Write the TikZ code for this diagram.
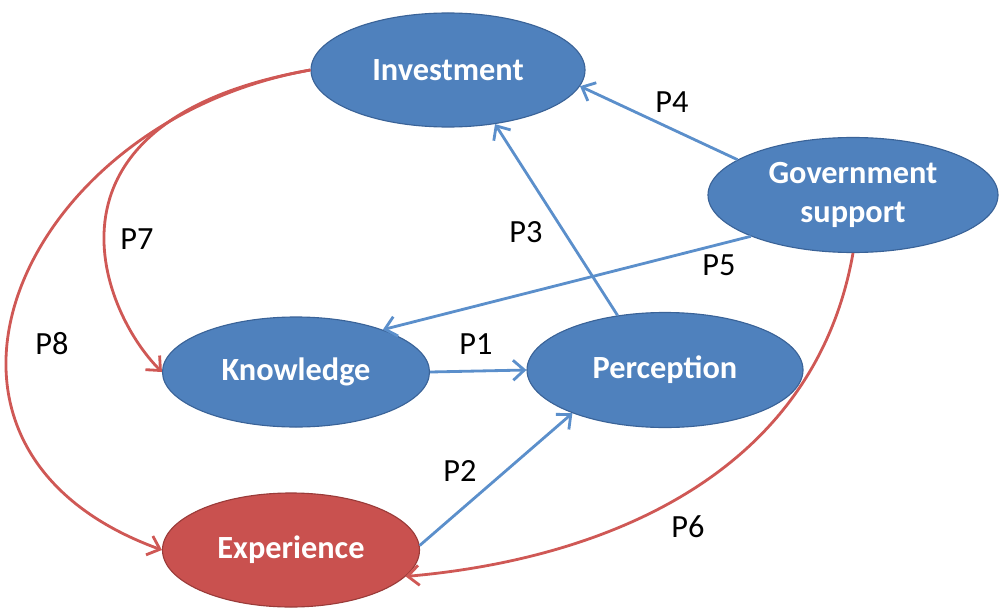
\documentclass[tikz,border=0pt]{standalone}
\usepackage{fontspec}
\setmainfont{Carlito}
\usetikzlibrary{shapes.geometric,arrows.meta}

\definecolor{nodeblue}{HTML}{4F81BD}
\definecolor{edgeblue}{HTML}{3A6398}
\definecolor{lineblue}{HTML}{5B8FCB}
\definecolor{nodered}{HTML}{C9514F}
\definecolor{edgered}{HTML}{9A3B39}
\definecolor{linered}{HTML}{CF5855}

\tikzset{
  factor/.style={ellipse, draw=edgeblue, fill=nodeblue, line width=0.8pt, inner sep=0pt,
    text=white, font=\fontsize{23}{28}\selectfont\bfseries, align=center},
  redfactor/.style={factor, draw=edgered, fill=nodered},
  plabel/.style={font=\fontsize{23}{28}\selectfont},
  blink/.style={->, draw=lineblue, line width=2pt},
  rlink/.style={->, draw=linered, line width=2pt}
}

\begin{document}
\begin{tikzpicture}[>={Straight Barb[length=2.8mm,width=5mm]}]
    \useasboundingbox (0,0) rectangle (24.975,-15.275);

    \node[factor, minimum width=6.85cm, minimum height=2.85cm] (inv) at (11.2,-1.75) {Investment};
    \node[factor, minimum width=7.25cm, minimum height=2.875cm] (gov) at (21.325,-4.875) {Government\\support};
    \node[factor, minimum width=6.675cm, minimum height=2.75cm] (know) at (7.4,-9.3) {Knowledge};
    \node[factor, minimum width=6.9cm, minimum height=2.875cm] (perc) at (16.625,-9.25) {Perception};
    \node[redfactor, minimum width=6.425cm, minimum height=2.85cm] (exp) at (7.275,-13.75) {Experience};

    \draw[blink] (know.east) -- (perc.west);
    \draw[blink] (exp.2) -- (perc.205);
    \draw[blink] (perc.131) -- (inv.311);
    \draw[blink] (gov.163) -- (inv.353);
    \draw[blink] (gov.202) -- (know.26);
    \draw[rlink] (gov.south) to[out=-100, in=5, out looseness=1.06, in looseness=0.9] (exp.347);
    \draw[rlink] (inv.west) to[out=190, in=135, out looseness=2.19, in looseness=0.68] (know.west);
    \draw[rlink] (inv.west) to[out=190, in=160, out looseness=1.5, in looseness=1.55] (exp.west);

    \node[plabel] (p1) at (11.9,-8.6) {P1};
    \node[plabel] (p2) at (11.5,-11.775) {P2};
    \node[plabel] (p3) at (13.15,-5.8) {P3};
    \node[plabel] (p4) at (16.8,-2.55) {P4};
    \node[plabel] (p5) at (17.975,-6.625) {P5};
    \node[plabel] (p6) at (17.2,-13.175) {P6};
    \node[plabel] (p7) at (3.425,-5.975) {P7};
    \node[plabel] (p8) at (1.3,-8.6) {P8};
  \end{tikzpicture}
\end{document}
